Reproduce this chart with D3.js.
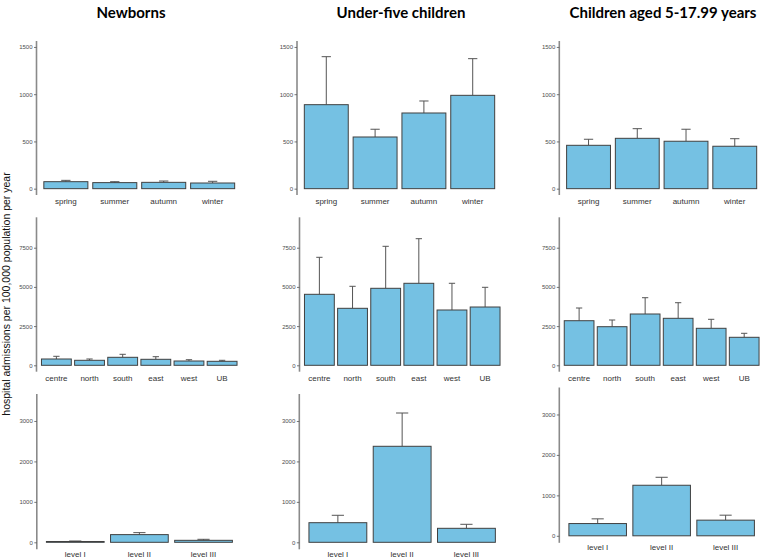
<!DOCTYPE html>
<html><head><meta charset="utf-8">
<script src="https://cdn.jsdelivr.net/npm/d3@7"></script>
<style>body{margin:0;background:#fff}svg{display:block}</style>
</head><body>
<svg id="c" width="760" height="558"></svg>
<script>
// ---------- data ----------
const groups = ["Newborns", "Under-five children", "Children aged 5-17.99 years"];
const seasons = ["spring", "summer", "autumn", "winter"];
const regions = ["centre", "north", "south", "east", "west", "UB"];
const levels = ["level I", "level II", "level III"];

const seasonTicks = [0, 500, 1000, 1500];
const regionTicks = [0, 2500, 5000, 7500];
const levelTicks = [0, 1000, 2000, 3000];

// means and upper error-bar ends
const newbornSeason = [74, 64, 67, 60];
const newbornSeasonUpper = [88, 74, 81, 78];
const underFiveSeason = [889, 547, 801, 988];
const underFiveSeasonUpper = [1397, 629, 928, 1376];
const olderSeason = [459, 533, 502, 449];
const olderSeasonUpper = [523, 635, 629, 529];

const newbornRegion = [402, 319, 510, 383, 274, 255];
const newbornRegionUpper = [574, 402, 701, 549, 357, 319];
const underFiveRegion = [4528, 3635, 4911, 5230, 3527, 3718];
const underFiveRegionUpper = [6888, 5038, 7589, 8074, 5230, 4974];
const olderRegion = [2844, 2462, 3272, 2997, 2360, 1786];
const olderRegionUpper = [3654, 2889, 4311, 3992, 2934, 2041];

const newbornLevel = [20, 190, 49];
const newbornLevelUpper = [32, 239, 74];
const underFiveLevel = [485, 2374, 346];
const underFiveLevelUpper = [668, 3197, 445];
const olderLevel = [303, 1250, 387];
const olderLevelUpper = [419, 1447, 510];

const yLabel = "hospital admissions per 100,000 population per year";

// ---------- layout ----------
const svg = d3.select("#c");
const rows = [
  {cats: seasons, ticks: seasonTicks, yTop: 41, yBot: 195, dom: [-67, 1563], labOff: 8.5,
   series: [[newbornSeason, newbornSeasonUpper], [underFiveSeason, underFiveSeasonUpper], [olderSeason, olderSeasonUpper]]},
  {cats: regions, ticks: regionTicks, yTop: 217.3, yBot: 371.7, dom: [-408, 9439], labOff: 8.8,
   series: [[newbornRegion, newbornRegionUpper], [underFiveRegion, underFiveRegionUpper], [olderRegion, olderRegionUpper]]},
  {cats: levels, ticks: levelTicks, yTop: 394, yBot: 549.3, dom: [-173, 3667], labOff: 7.6,
   series: [[newbornLevel, newbornLevelUpper], [underFiveLevel, underFiveLevelUpper], [olderLevel, olderLevelUpper]]}
];
const colX = [
  [[36.5, 242], [297, 502], [559.3, 764]],
  [[36.5, 242], [299.5, 505], [559.3, 764]],
  [[36.8, 242], [299.3, 505], [559.3, 764]]
];
const rowShift = [[0, 0, 0], [0, 0, 0], [0, 0, -6.5]];
const titleX = [131, 401, 663];

const barFill = "#75c1e3", barStroke = "#404040", axisCol = "#8a8a8a";

groups.forEach((g, c) => {
  svg.append("text").attr("x", titleX[c]).attr("y", 18)
    .attr("text-anchor", "middle")
    .attr("font-family", "Lato, 'Open Sans', sans-serif")
    .attr("font-weight", "bold").attr("font-size", 15).attr("fill", "#000")
    .text(g);
});

rows.forEach((row, r) => {
  row.series.forEach(([vals, upp], c) => {
    const [x0, x1] = colX[r][c];
    const dy = rowShift[r][c];
    const x = d3.scaleBand().domain(row.cats).range([x0, x1]).paddingInner(0.1).paddingOuter(0.15);
    const y = d3.scaleLinear().domain(row.dom).range([row.yBot + dy, row.yTop + dy]);
    const gP = svg.append("g");
    const data = row.cats.map((k, i) => ({k, v: vals[i], u: upp[i]}));
    const capW = x.step() * 0.19;

    // error bars (upper)
    gP.selectAll("line.eb").data(data).join("line")
      .attr("x1", d => x(d.k) + x.bandwidth() / 2).attr("x2", d => x(d.k) + x.bandwidth() / 2)
      .attr("y1", d => y(d.v)).attr("y2", d => y(d.u))
      .attr("stroke", "#555").attr("stroke-width", 1);
    gP.selectAll("line.cap").data(data).join("line")
      .attr("x1", d => x(d.k) + x.bandwidth() / 2 - capW / 2).attr("x2", d => x(d.k) + x.bandwidth() / 2 + capW / 2)
      .attr("y1", d => y(d.u)).attr("y2", d => y(d.u))
      .attr("stroke", "#555").attr("stroke-width", 1);
    // bars
    gP.selectAll("rect").data(data).join("rect")
      .attr("x", d => x(d.k)).attr("width", x.bandwidth())
      .attr("y", d => y(d.v)).attr("height", d => y(0) - y(d.v))
      .attr("fill", barFill).attr("stroke", barStroke).attr("stroke-width", 1);

    // y axis
    const ax = gP.append("g").attr("transform", `translate(${x0},0)`)
      .call(d3.axisLeft(y).tickValues(row.ticks).tickSize(2.5).tickPadding(1.5).tickFormat(d3.format("d")));
    ax.select(".domain").attr("stroke", axisCol).attr("stroke-width", 1.6)
      .attr("d", `M0,${row.yTop + dy}V${row.yBot + dy}`);
    ax.selectAll(".tick line").attr("stroke", "#555").attr("stroke-width", 0.8);
    ax.selectAll(".tick text").attr("fill", "#4d4d4d").attr("font-size", 6)
      .attr("font-family", "'Liberation Sans', Arial, sans-serif");

    // category labels
    gP.selectAll("text.cat").data(data).join("text")
      .attr("x", d => x(d.k) + x.bandwidth() / 2).attr("y", row.yBot + dy + row.labOff)
      .attr("text-anchor", "middle").attr("font-size", 8)
      .attr("font-family", "'Liberation Sans', Arial, sans-serif").attr("fill", "#333")
      .text(d => d.k);
  });
});

svg.append("text").attr("transform", "translate(10,294) rotate(-90)")
  .attr("text-anchor", "middle").attr("font-size", 10.5)
  .attr("font-family", "'Liberation Sans', Arial, sans-serif").attr("fill", "#111")
  .text(yLabel);
</script>
</body></html>
